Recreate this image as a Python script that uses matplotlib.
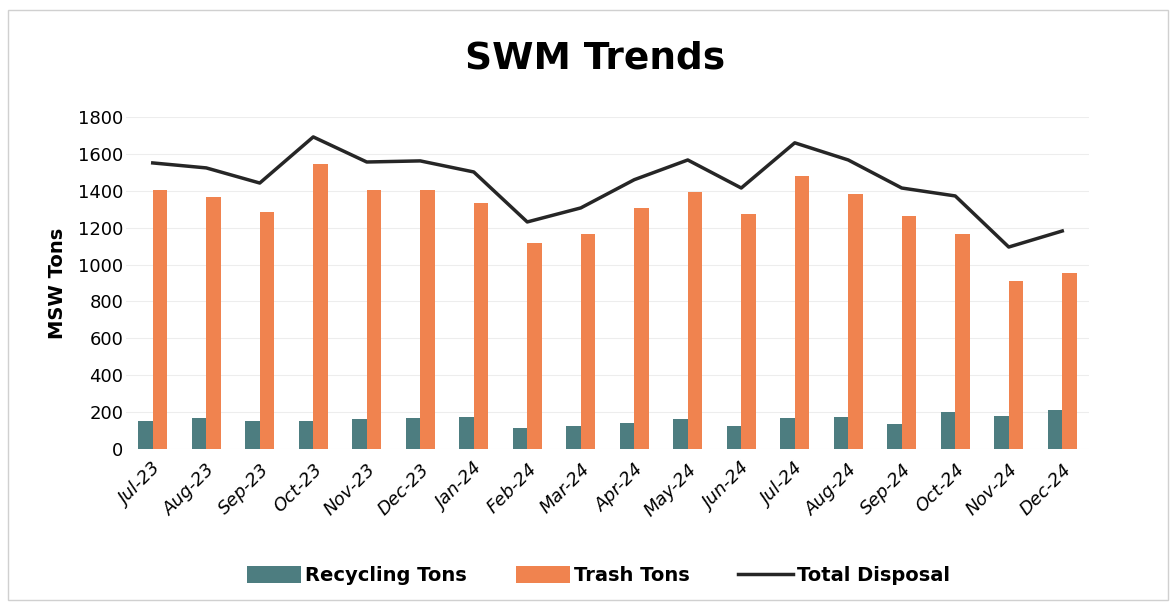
import numpy as np
import matplotlib.pyplot as plt
from matplotlib.patches import Rectangle

months = ['Jul-23', 'Aug-23', 'Sep-23', 'Oct-23', 'Nov-23', 'Dec-23', 'Jan-24', 'Feb-24',
          'Mar-24', 'Apr-24', 'May-24', 'Jun-24', 'Jul-24', 'Aug-24', 'Sep-24', 'Oct-24',
          'Nov-24', 'Dec-24']
recycling = [152, 168, 152, 152, 163, 168, 174, 114, 125, 141, 163, 125, 168, 174, 136, 201, 179, 212]
trash = [1404, 1366, 1285, 1545, 1404, 1404, 1334, 1117, 1166, 1307, 1394, 1274, 1480, 1383,
         1263, 1166, 911, 954]
total = [1551, 1524, 1442, 1692, 1556, 1562, 1502, 1231, 1307, 1460, 1567, 1415, 1660, 1567,
         1415, 1372, 1095, 1182]

fig = plt.figure(figsize=(11.73, 6.11), dpi=100)
ax = fig.add_axes([126 / 1173, 1 - 449 / 611, (1089 - 126) / 1173, (449 - 117) / 611])

x = np.arange(len(months))
w = 0.27
b1 = ax.bar(x - w / 2, recycling, w, color='#4d7d80', label='Recycling Tons', zorder=2)
b2 = ax.bar(x + w / 2, trash, w, color='#f0834f', label='Trash Tons', zorder=2)
l1, = ax.plot(x, total, color='#262626', lw=2.5, label='Total Disposal', zorder=3)

ax.set_xlim(-0.5, len(months) - 0.5)
ax.set_ylim(0, 1800)
ax.set_yticks(range(0, 1801, 200))
ax.yaxis.grid(True, color='#ededed', lw=0.8, zorder=0)
ax.tick_params(axis='both', length=0, labelsize=13)
ax.tick_params(axis='y', pad=2)
for s in ax.spines.values():
    s.set_visible(False)

ax.set_xticks(x)
ax.set_xticklabels(months, rotation=45, ha='right', rotation_mode='anchor',
                   fontsize=13, style='italic')
ax.tick_params(axis='x', pad=8)

ax.set_ylabel('MSW Tons', fontsize=14, fontweight='bold', labelpad=8)
fig.text(0.507, 0.905, 'SWM Trends', ha='center', va='center', fontsize=27,
         fontweight='bold')

fig.legend([b1, b2, l1], ['Recycling Tons', 'Trash Tons', 'Total Disposal'],
           loc='center', bbox_to_anchor=(0.51, 0.058), ncol=3, frameon=False,
           handlelength=2.8, handleheight=1.0, columnspacing=2.5,
           handletextpad=0.2, prop={'weight': 'bold', 'size': 14})

fig.patches.append(Rectangle((8 / 1173, 11 / 611), 1160 / 1173, 590 / 611, fill=False,
                             edgecolor='#d0d0d0', lw=1, transform=fig.transFigure))

plt.savefig('out.png', dpi=100)
